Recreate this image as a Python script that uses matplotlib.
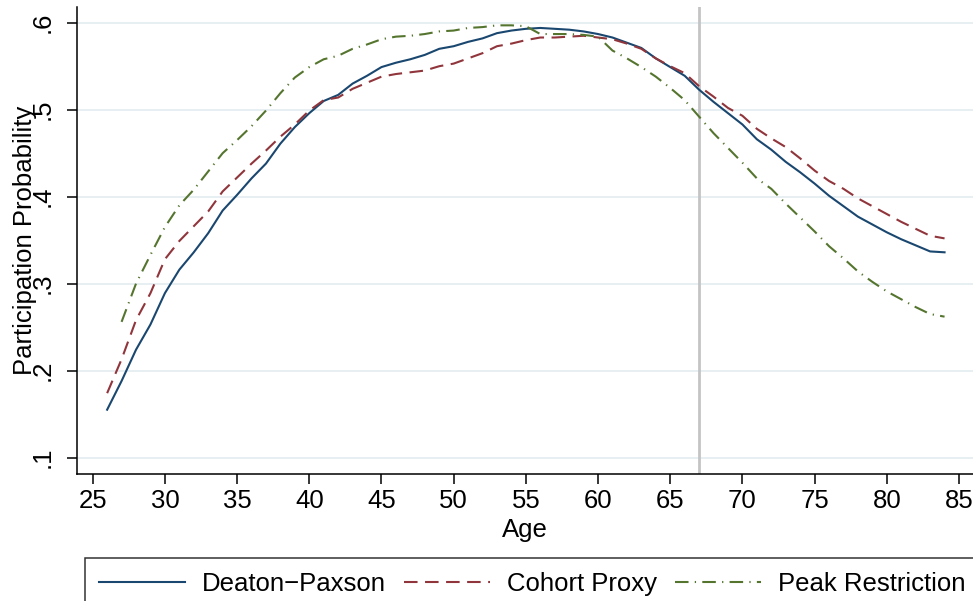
import matplotlib
matplotlib.use("Agg")
import matplotlib.pyplot as plt

plt.rcParams['font.family'] = ['Liberation Sans', 'DejaVu Sans']

ages = list(range(26, 85))
deaton_paxson = [0.155, 0.188, 0.224, 0.253, 0.289, 0.316, 0.336, 0.358, 0.384, 0.402,
                 0.421, 0.438, 0.461, 0.480, 0.496, 0.510, 0.517, 0.530, 0.539, 0.549,
                 0.554, 0.558, 0.563, 0.570, 0.573, 0.578, 0.582, 0.588, 0.591, 0.593,
                 0.594, 0.593, 0.592, 0.590, 0.587, 0.583, 0.577, 0.571, 0.559, 0.549,
                 0.539, 0.523, 0.509, 0.496, 0.483, 0.466, 0.454, 0.440, 0.428, 0.415,
                 0.401, 0.389, 0.377, 0.368, 0.359, 0.351, 0.344, 0.337, 0.336]
cohort_proxy = [0.174, 0.213, 0.258, 0.289, 0.328, 0.349, 0.366, 0.383, 0.406, 0.422,
                0.438, 0.453, 0.469, 0.483, 0.499, 0.511, 0.514, 0.524, 0.531, 0.538,
                0.541, 0.543, 0.545, 0.550, 0.553, 0.559, 0.565, 0.573, 0.576, 0.580,
                0.583, 0.583, 0.584, 0.585, 0.583, 0.581, 0.576, 0.570, 0.559, 0.550,
                0.542, 0.527, 0.515, 0.502, 0.493, 0.478, 0.467, 0.457, 0.444, 0.430,
                0.418, 0.409, 0.398, 0.389, 0.380, 0.371, 0.363, 0.355, 0.352]
ages_peak = list(range(27, 85))
peak_restriction = [0.256, 0.300, 0.333, 0.365, 0.390, 0.408, 0.429, 0.450, 0.465,
                    0.481, 0.499, 0.519, 0.537, 0.549, 0.558, 0.562, 0.570, 0.575, 0.581,
                    0.584, 0.585, 0.587, 0.590, 0.591, 0.594, 0.595, 0.597, 0.597, 0.596,
                    0.587, 0.587, 0.587, 0.586, 0.584, 0.568, 0.559, 0.549, 0.538, 0.525,
                    0.511, 0.492, 0.473, 0.456, 0.439, 0.421, 0.409, 0.392, 0.376, 0.360,
                    0.343, 0.329, 0.314, 0.302, 0.291, 0.282, 0.273, 0.265, 0.262]
retirement_age = 67
xticks = list(range(25, 90, 5))
yticks = [0.1, 0.2, 0.3, 0.4, 0.5, 0.6]
ytick_labels = ['.1', '.2', '.3', '.4', '.5', '.6']

fs = 18.5

fig = plt.figure(figsize=(9.73, 6.01), dpi=100)
ax = fig.add_axes([0.0788, 0.2121, 0.9212, 0.7767])

for y in yticks:
    ax.axhline(y, color='#e8eff3', lw=1.4, zorder=0)
ax.axvline(retirement_age, color='#c4c4c4', lw=2, zorder=1)

ax.plot(ages, deaton_paxson, color='#1a476f', lw=1.5, label='Deaton\u2212Paxson', zorder=3)
ax.plot(ages, cohort_proxy, color='#90353b', lw=1.5, dashes=(6.5, 3.6),
        label='Cohort Proxy', zorder=3)
ax.plot(ages_peak, peak_restriction, color='#55752f', lw=1.5, dashes=(6.5, 3.0, 0.6, 3.0),
        label='Peak Restriction', zorder=3)

ax.set_xlim(23.89, 85.97)
ax.set_ylim(0.0816, 0.6184)
ax.set_xticks(xticks)
ax.set_yticks(yticks)
ax.set_yticklabels(ytick_labels, rotation=90, va='center')

for side in ['top', 'right']:
    ax.spines[side].set_visible(False)
for side in ['left', 'bottom']:
    ax.spines[side].set_linewidth(1.1)
ax.tick_params(labelsize=fs, length=7, width=1.1, colors='black')
ax.tick_params(axis='x', pad=4)
ax.tick_params(axis='y', pad=9)

ax.set_xlabel('Age', fontsize=fs, labelpad=4)
ax.set_ylabel('Participation Probability', fontsize=fs)
ax.yaxis.set_label_coords(-0.044, 0.5)

leg = fig.legend(loc='upper left', bbox_to_anchor=(85 / 973, 1 - 558 / 601), ncol=3,
                 fontsize=fs, frameon=True, fancybox=False, handlelength=3.35,
                 handletextpad=0.66, columnspacing=0.7, borderpad=0.55,
                 borderaxespad=0)
leg.get_frame().set_edgecolor('black')
leg.get_frame().set_linewidth(1.1)

fig.savefig('out.png', dpi=100)
